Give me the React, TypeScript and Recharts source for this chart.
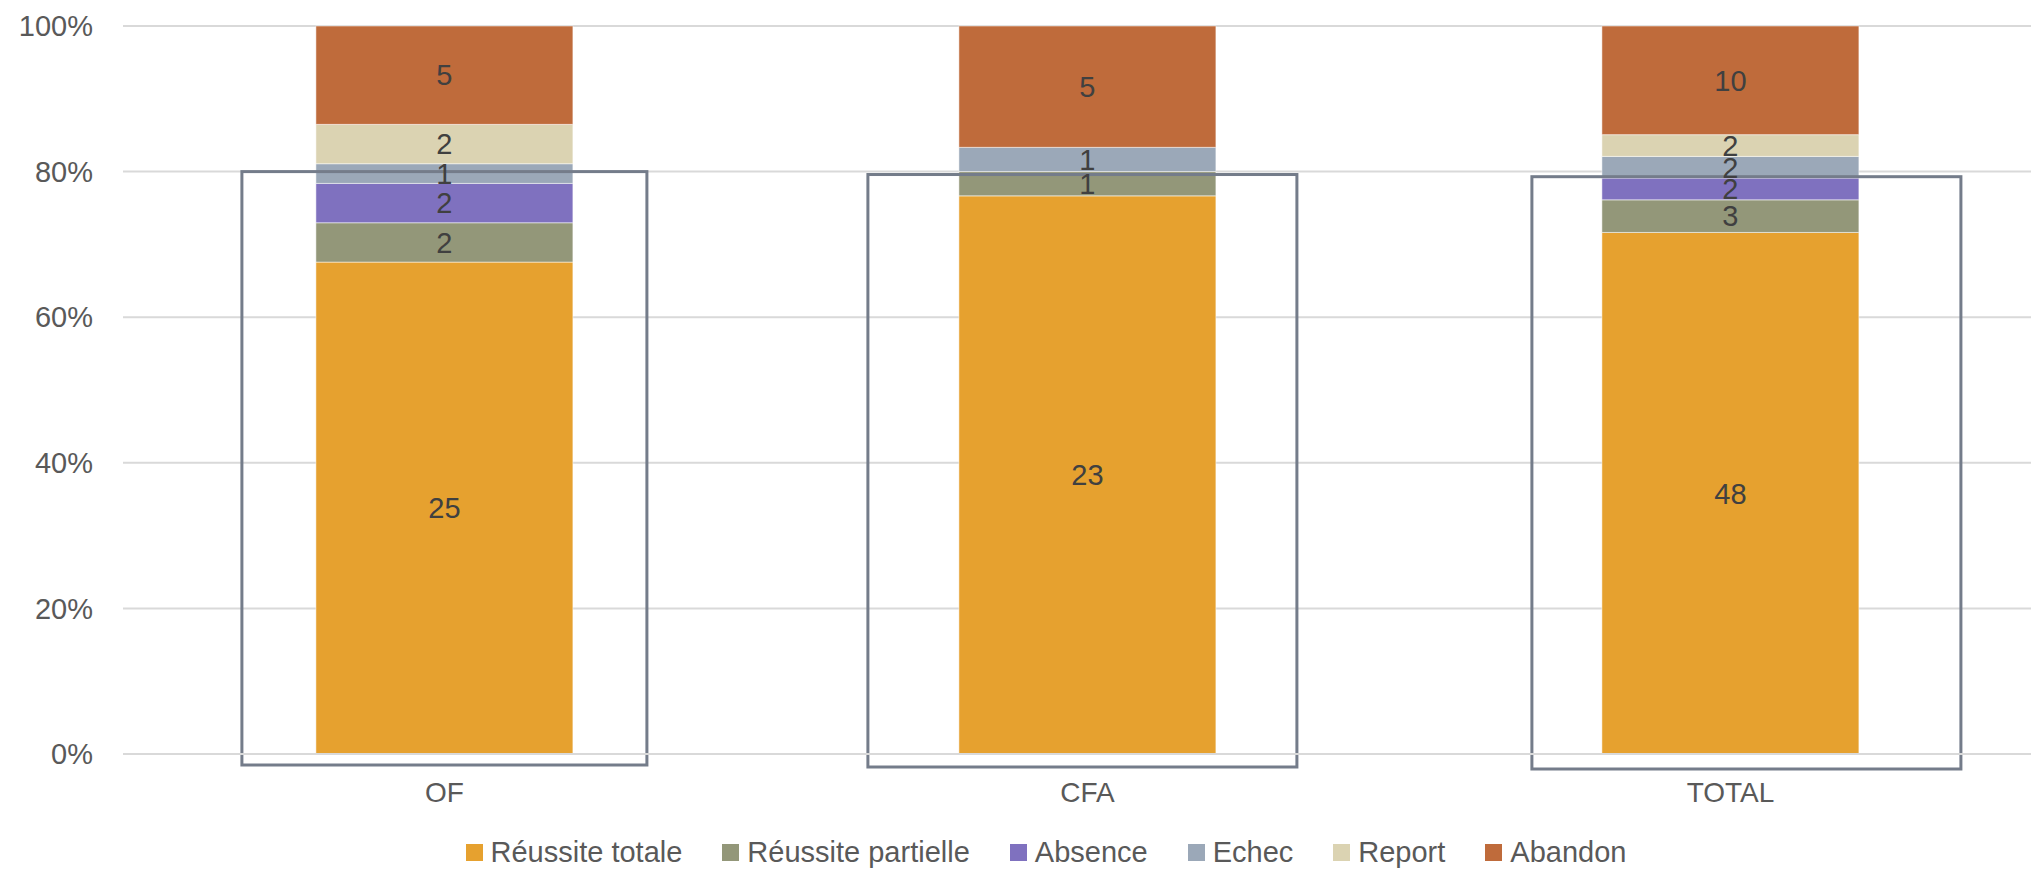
import React from "react";
import { BarChart, Bar, XAxis, YAxis, CartesianGrid, LabelList, Legend } from "recharts";

const categories = ["OF", "CFA", "TOTAL"];
const reussiteTotale = [25, 23, 48];
const reussitePartielle = [2, 1, 3];
const absence = [2, 0, 2];
const echec = [1, 1, 2];
const report = [2, 0, 2];
const abandon = [5, 5, 10];
const yTicks = [0, 0.2, 0.4, 0.6, 0.8, 1];

const series = [
  { key: "reussiteTotale", name: "Réussite totale", color: "#E6A12F" },
  { key: "reussitePartielle", name: "Réussite partielle", color: "#939779" },
  { key: "absence", name: "Absence", color: "#7F71BF" },
  { key: "echec", name: "Echec", color: "#9BA8B8" },
  { key: "report", name: "Report", color: "#DBD3B2" },
  { key: "abandon", name: "Abandon", color: "#BF6B3B" },
];

const data = categories.map((cat, i) => ({
  cat,
  reussiteTotale: reussiteTotale[i],
  reussitePartielle: reussitePartielle[i],
  absence: absence[i],
  echec: echec[i],
  report: report[i],
  abandon: abandon[i],
}));

// hand-drawn frames around each bar (padding in px, top as share of the axis)
const frames = [
  { left: 74, right: 74, top: 0.8, below: 11 },
  { left: 91, right: 81, top: 0.796, below: 13 },
  { left: 70, right: 102, top: 0.793, below: 15 },
];

const FONT = "'Liberation Sans', Arial, sans-serif";

function TopShape(props: any) {
  const { x, y, width, height, fill, payload } = props;
  const idx = categories.indexOf(payload.cat);
  const total = series.reduce((s, se) => s + payload[se.key], 0);
  const unit = height / (payload.abandon / total);
  const base = y + unit;
  const f = frames[idx];
  const top = base - f.top * unit;
  return (
    <g>
      <rect x={x} y={y} width={width} height={height} fill={fill} stroke="#ffffff" strokeOpacity={0.5} strokeWidth={1} />
      <rect
        x={x - f.left}
        y={top}
        width={width + f.left + f.right}
        height={base + f.below - top}
        fill="none"
        stroke="#747C8A"
        strokeWidth={3}
      />
    </g>
  );
}

function LegendContent() {
  return (
    <div
      style={{
        display: "flex",
        justifyContent: "center",
        alignItems: "center",
        gap: 40,
        height: 40,
        boxSizing: "border-box",
        paddingTop: 4,
        paddingLeft: 40,
        fontFamily: FONT,
        fontSize: 29,
        lineHeight: "32px",
        color: "#595959",
      }}
    >
      {series.map((s) => (
        <div key={s.key} style={{ display: "flex", alignItems: "center", gap: 8 }}>
          <span style={{ width: 17, height: 17, background: s.color, display: "inline-block" }} />
          <span>{s.name}</span>
        </div>
      ))}
    </div>
  );
}

export default function App() {
  return (
    <div style={{ margin: "-8px 0 0 -8px", width: 2039, height: 870, overflow: "hidden", background: "#fff" }}>
      <BarChart
        width={2060}
        height={870}
        data={data}
        stackOffset="expand"
        barCategoryGap="30%"
        margin={{ top: 26, right: 8, bottom: 0, left: 0 }}
      >
        <CartesianGrid vertical={false} stroke="#D9D9D9" strokeWidth={2} />
        <XAxis
          dataKey="cat"
          axisLine={{ stroke: "#D9D9D9", strokeWidth: 2 }}
          tickLine={false}
          tickSize={0}
          tickMargin={28}
          height={76}
          tick={{ fill: "#595959", fontSize: 28, fontFamily: FONT }}
        />
        <YAxis
          type="number"
          domain={[0, 1]}
          ticks={yTicks}
          width={123}
          axisLine={false}
          tickLine={false}
          tickSize={0}
          tickMargin={30}
          tickFormatter={(v: number) => `${Math.round(v * 100)}%`}
          tick={{ fill: "#595959", fontSize: 29, fontFamily: FONT }}
        />
        <Legend verticalAlign="bottom" height={40} content={<LegendContent />} />
        {series.map((s, i) => (
          <Bar
            key={s.key}
            dataKey={s.key}
            name={s.name}
            stackId="a"
            fill={s.color}
            stroke="#ffffff"
            strokeOpacity={0.5}
            strokeWidth={1}
            isAnimationActive={false}
            shape={i === series.length - 1 ? TopShape : undefined}
          >
            <LabelList
              dataKey={s.key}
              position="center"
              fill="#404040"
              fontSize={29}
              fontFamily={FONT}
              formatter={(v: any) => (v ? v : "")}
            />
          </Bar>
        ))}
      </BarChart>
    </div>
  );
}
